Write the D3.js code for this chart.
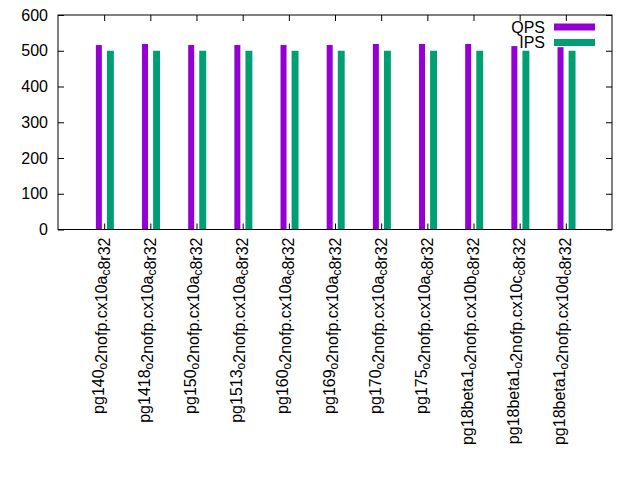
<!DOCTYPE html>
<html>
<head>
<meta charset="utf-8">
<script src="https://cdn.jsdelivr.net/npm/d3@7"></script>
<style>
  body { margin: 0; background: #fff; }
  text { font-family: "Liberation Sans", Arial, sans-serif; fill: #000; }
</style>
</head>
<body>
<div id="plot"></div>
<script>
// gnuplot-style labels: "_x" means x is a subscript
let categories = [
  "pg140_o2nofp.cx10a_c8r32",
  "pg1418_o2nofp.cx10a_c8r32",
  "pg150_o2nofp.cx10a_c8r32",
  "pg1513_o2nofp.cx10a_c8r32",
  "pg160_o2nofp.cx10a_c8r32",
  "pg169_o2nofp.cx10a_c8r32",
  "pg170_o2nofp.cx10a_c8r32",
  "pg175_o2nofp.cx10a_c8r32",
  "pg18beta1_o2nofp.cx10b_c8r32",
  "pg18beta1_o2nofp.cx10c_c8r32",
  "pg18beta1_o2nofp.cx10d_c8r32"
]
let qps = [516, 519, 516, 516, 516, 516, 519, 519, 519, 513, 510]
let ips = [500, 500, 500, 500, 500, 500, 500, 500, 500, 500, 500]
let yTicks = [0, 100, 200, 300, 400, 500, 600]
let seriesNames = ["QPS", "IPS"]
let seriesColors = ["#9400d3", "#009e73"]

let svgWidth = 640
let svgHeight = 480

let plotLeft = 58, plotRight = 612, plotTop = 15, plotBottom = 229.5

let svg = d3.select("#plot")
  .append("svg")
  .attr("width", svgWidth)
  .attr("height", svgHeight)

let x = d3.scaleLinear()
  .domain([-1, categories.length])
  .range([plotLeft, plotRight])

let y = d3.scaleLinear()
  .domain([0, 600])
  .range([plotBottom, plotTop])

let fontSize = 16

// bars
let series = [qps, ips]
let offsets = [[-0.18, -0.05], [0.06, 0.21]]
series.forEach(function(vals, s) {
  svg.append("g")
    .selectAll("rect")
    .data(vals)
    .enter()
    .append("rect")
    .attr("x", (d, i) => x(i + offsets[s][0]))
    .attr("width", (d, i) => x(i + offsets[s][1]) - x(i + offsets[s][0]))
    .attr("y", d => y(d))
    .attr("height", d => y(0) - y(d))
    .attr("fill", seriesColors[s])
})

// axes, ticks pointing inward like gnuplot
let idx = d3.range(categories.length)

let yAxis = svg.append("g")
  .attr("transform", `translate(${plotLeft}, 0)`)
  .call(d3.axisLeft(y).tickValues(yTicks).tickSize(-6).tickSizeOuter(0).tickPadding(10))

svg.append("g")
  .attr("transform", `translate(${plotRight}, 0)`)
  .call(d3.axisRight(y).tickValues(yTicks).tickSize(-6).tickSizeOuter(0).tickFormat(""))

let xAxis = svg.append("g")
  .attr("transform", `translate(0, ${plotBottom})`)
  .call(d3.axisBottom(x).tickValues(idx).tickSize(-6).tickSizeOuter(0).tickFormat(""))

svg.append("g")
  .attr("transform", `translate(0, ${plotTop})`)
  .call(d3.axisTop(x).tickValues(idx).tickSize(-6).tickSizeOuter(0).tickFormat(""))

svg.selectAll(".domain").remove()
svg.selectAll(".tick line").attr("stroke", "#000")

yAxis.selectAll("text")
  .style("font-size", fontSize + "px")
  .style("font-family", "'Liberation Sans', Arial, sans-serif")

// border
svg.append("rect")
  .attr("x", plotLeft)
  .attr("y", plotTop)
  .attr("width", plotRight - plotLeft)
  .attr("height", plotBottom - plotTop)
  .attr("fill", "none")
  .attr("stroke", "#000")

// rotated category labels with subscripts
xAxis.selectAll(".tick").each(function(i) {
  let t = d3.select(this).append("text")
    .attr("transform", "translate(-1, 8) rotate(-90)")
    .attr("text-anchor", "end")
    .style("font-size", fontSize + "px")
  let parts = categories[i].split(/_(.)/)
  parts.forEach(function(p, k) {
    if (p === "") return
    if (k % 2 === 1) {
      t.append("tspan").attr("dy", "0.25em").style("font-size", (fontSize * 0.75) + "px").text(p)
      t.append("tspan").attr("dy", "-0.25em").text("")
    } else {
      t.append("tspan").text(p)
    }
  })
})

// legend
let legend = svg.append("g")
seriesNames.forEach(function(name, s) {
  let ly = 27 + s * 15.5
  legend.append("text")
    .attr("x", 545)
    .attr("y", ly)
    .attr("dy", "0.35em")
    .attr("text-anchor", "end")
    .style("font-size", fontSize + "px")
    .text(name)
  legend.append("rect")
    .attr("x", 554)
    .attr("y", ly - 3.5)
    .attr("width", 41)
    .attr("height", 7)
    .attr("fill", seriesColors[s])
})
</script>
</body>
</html>
